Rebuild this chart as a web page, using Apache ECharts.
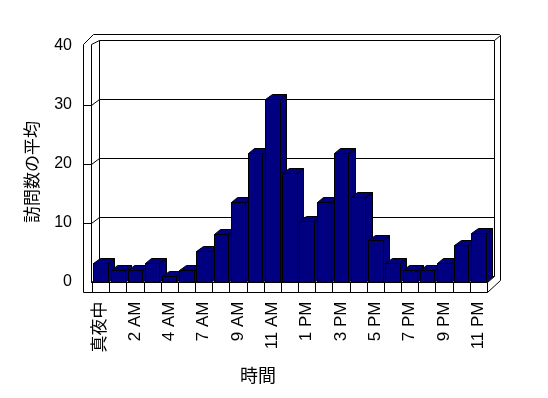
<!DOCTYPE html>
<html>
<head>
<meta charset="utf-8">
<script src="https://cdn.jsdelivr.net/npm/echarts@6/dist/echarts.min.js"></script>
<style>
html,body{margin:0;padding:0;background:#fff;}
#chart{width:548px;height:398px;}
</style>
</head>
<body>
<div id="chart"></div>
<script>
var categories = ['真夜中','1 AM','2 AM','3 AM','4 AM','5 AM','7 AM','8 AM','9 AM','10 AM','11 AM','正午','1 PM','2 PM','3 PM','4 PM','5 PM','6 PM','7 PM','8 PM','9 PM','10 PM','11 PM'];
var visits = [3.1,1.9,1.9,3.1,0.9,1.9,5.1,8.1,13.4,21.7,31,18.4,10.2,13.4,21.7,14.4,7.1,3.1,1.9,1.9,3.1,6.2,8.2];
var yTicks = [0,10,20,30,40];
var yTitle = '訪問数の平均';
var xTitle = '時間';

var FONT = '"Liberation Sans", Arial, "Noto Sans CJK JP", sans-serif';
var DX = 7, DY = -5.5;       // depth offset of back wall
var BDX = 6.5, BDY = -5;     // depth offset of bars
function p(v){ return Math.round(v) + 0.5; }
var LS = {stroke:'#000', lineWidth:1, fill:null};

var chart = echarts.init(document.getElementById('chart'), null, {renderer:'canvas'});

function frameRender(params, api){
  var cs = params.coordSys;
  var X0 = cs.x, X1 = cs.x + cs.width;
  var Y0 = api.coord([0,0])[1];
  var Ytop = api.coord([0,40])[1];
  var WL = X0 - 9;
  var FB = Y0 + 10;
  var ch = [];
  function line(x1,y1,x2,y2){
    ch.push({type:'line', shape:{x1:p(x1),y1:p(y1),x2:p(x2),y2:p(y2)}, style:LS, silent:true});
  }
  ch.push({type:'polyline', shape:{points:[[p(WL),p(FB)],[p(WL),p(Ytop-2)],[p(WL+10),p(Ytop-12)],[p(X1+12),p(Ytop-12)],[p(X1+13),p(Ytop-11)],[p(X1+13),p(Y0-2)],[p(X1),p(FB)]]}, style:LS, silent:true});
  line(X0-1, Ytop-2, X0-1, Y0);
  line(X0-1, Ytop-2, X0+DX, Ytop+DY);
  line(X0+DX, Ytop+DY, X0+DX, Y0+DY);
  line(X1+DX, Ytop+DY, X1+DX, Y0+DY);
  line(X1+DX, Ytop+DY, X1+13, Ytop-11);
  yTicks.forEach(function(v){
    var yf = api.coord([0,v])[1];
    var yb = yf + DY;
    if (v > 0 && v < 40) {
      line(WL, yf, X0-1, yf);
      line(X0-1, yf, X0+DX, yb);
    }
    if (v > 0) line(X0+DX, yb, X1+DX, yb);
  });
  line(X0+DX, Y0+DY, X1+DX, Y0+DY);
  line(X0-1, Y0, X0+DX, Y0+DY);
  line(X1, Y0, X1+DX, Y0+DY);
  line(X0-1, Y0, X1, Y0);
  line(WL, FB, X1, FB);
  line(X1, Y0, X1, FB);
  for (var i = 0; i < categories.length; i++) {
    var c = api.coord([i, 0])[0];
    var bw = api.size([1,0])[0];
    line(c - bw/2, Y0, c - bw/2, FB);
  }
  return {type:'group', children:ch};
}

function barRender(params, api){
  var i = api.value(0), v = api.value(1);
  var top = api.coord([i, v]);
  var base = api.coord([i, 0]);
  var bw = api.size([1,0])[0] * 0.84;
  var l = top[0] - bw/2, r = top[0] + bw/2, t = top[1], b = base[1];
  var st = {fill:'#000080', stroke:'#000', lineWidth:1};
  function P(x,y){ return [p(x), p(y)]; }
  return {type:'group', children:[
    {type:'polygon', shape:{points:[P(r,t),P(r+BDX,t+BDY),P(r+BDX,b+BDY),P(r,b)]}, style:st},
    {type:'polygon', shape:{points:[P(l,t),P(l+BDX,t+BDY),P(r+BDX,t+BDY),P(r,t)]}, style:st},
    {type:'rect', shape:{x:p(l), y:p(t), width:Math.round(r)-Math.round(l), height:Math.round(b)-Math.round(t)}, style:st}
  ]};
}

var barData = visits.map(function(v,i){ return [i, v]; });

chart.setOption({
  animation:false,
  backgroundColor:'#fff',
  grid:{left:92, right:61, top:45.5, bottom:116.5},
  xAxis:{type:'category', data:categories, boundaryGap:true,
    axisLine:{show:false}, axisTick:{show:false}, splitLine:{show:false},
    axisLabel:{interval:1, rotate:90, margin:20, fontSize:17, color:'#000', fontFamily:FONT}},
  yAxis:{type:'value', min:0, max:40, interval:10,
    axisLine:{show:false}, axisTick:{show:false}, splitLine:{show:false},
    axisLabel:{margin:20, fontSize:16, color:'#000', fontFamily:FONT}},
  graphic:[
    {type:'text', x:32, y:172, rotation:Math.PI/2,
      style:{text:yTitle, font:'17px "Noto Sans CJK JP", sans-serif', fill:'#000', textAlign:'center', textVerticalAlign:'middle'}},
    {type:'text', x:258, y:375,
      style:{text:xTitle, font:'18px "Noto Sans CJK JP", sans-serif', fill:'#000', textAlign:'center', textVerticalAlign:'middle'}}
  ],
  series:[
    {type:'custom', z:1, silent:true, renderItem:frameRender, data:[[0,0]], clip:false},
    {type:'custom', z:3, renderItem:barRender, data:barData, clip:false,
      encode:{x:0, y:1}}
  ]
});
</script>
</body>
</html>
